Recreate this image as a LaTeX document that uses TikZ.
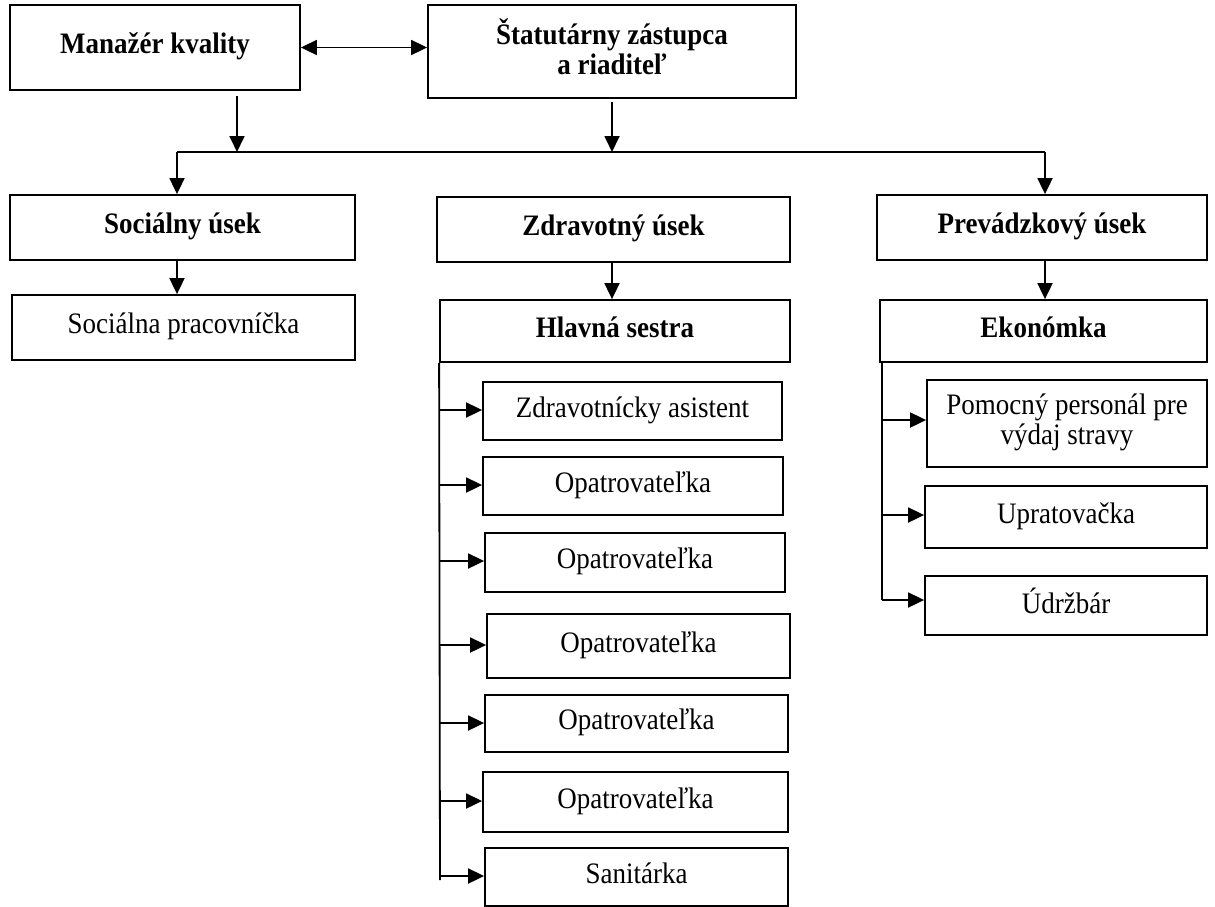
\documentclass[tikz,border=0pt]{standalone}
\usepackage{fontspec}
\usepackage{graphicx}
\setmainfont{Liberation Serif}
\usetikzlibrary{arrows.meta,calc}
\newcommand\tx[1]{\scalebox{1}[1.1]{\begin{tabular}{@{}c@{}}#1\end{tabular}}}
\begin{document}
\begin{tikzpicture}[x=1pt,y=-1pt,
  box/.style={draw,line width=1.8pt,rectangle,inner sep=0pt,align=center,font=\fontsize{27}{27.5}\selectfont},
  bbox/.style={box,font=\fontsize{27}{27.5}\selectfont\bfseries},
  arr/.style={line width=1.8pt,-{Triangle[length=16pt,width=15pt]}},
  arrs/.style={line width=1.8pt,{Triangle[length=16pt,width=15pt]}-{Triangle[length=16pt,width=15pt]}},
  ln/.style={line width=1.8pt}]
\useasboundingbox (0,0) rectangle (1215,906);
\clip (0,0) rectangle (1215,906);
\newcommand\bx[7]{\node[#1,minimum width={#5-#3},minimum height={#6-#4}] (#2) at ({(#3+#5)/2},{(#4+#6)/2}) {\tx{#7}};}
% top level
\bx{bbox}{ma}{10}{5}{300}{90}{Manažér kvality}
\bx{bbox}{st}{428}{5}{796}{98}{Štatutárny zástupca\\a riaditeľ}
% sections
\bx{bbox}{so}{10}{195}{355}{260}{Sociálny úsek}
\bx{bbox}{zd}{437}{197}{790}{262}{Zdravotný úsek}
\bx{bbox}{pr}{877}{195}{1207}{260}{Prevádzkový úsek}
% second level
\bx{box}{sp}{12}{295}{355}{360}{Sociálna pracovníčka}
\bx{bbox}{hs}{440}{300}{790}{362}{Hlavná sestra}
\bx{bbox}{ek}{880}{300}{1207}{362}{Ekonómka}
% health staff
\bx{box}{z1}{483}{382}{782}{440}{Zdravotnícky asistent}
\bx{box}{z2}{483}{457}{783}{515}{Opatrovateľka}
\bx{box}{z3}{485}{533}{785}{592}{Opatrovateľka}
\bx{box}{z4}{487}{614}{790}{678}{Opatrovateľka}
\bx{box}{z5}{485}{695}{788}{752}{Opatrovateľka}
\bx{box}{z6}{483}{772}{788}{832}{Opatrovateľka}
\bx{box}{z7}{485}{848}{788}{906}{Sanitárka}
% operations staff
\bx{box}{e1}{927}{380}{1207}{467}{Pomocný personál pre\\výdaj stravy}
\bx{box}{e2}{925}{486}{1207}{548}{Upratovačka}
\bx{box}{e3}{925}{576}{1207}{635}{Údržbár}
% connectors top
\draw[arrs] (ma.east) -- (ma.east -| st.west);
\coordinate (busL) at (177,152);
\coordinate (busR) at (1045,152);
\coordinate (m1) at (237,96);
\coordinate (s1) at (612,102);
\draw[ln] (busL) -- (busR);
\draw[arr] (m1) -- (m1 |- busL);
\draw[arr] (s1) -- (s1 |- busL);
\draw[arr] (busL) -- (busL |- so.north);
\draw[arr] (busR) -- (busR |- pr.north);
\draw[arr] (so.south -| busL) -- (sp.north -| busL);
\draw[arr] (zd.south -| s1) -- (hs.north -| s1);
\draw[arr] (pr.south -| busR) -- (ek.north -| busR);
% health trunk
\coordinate (hT) at (hs.south west);
\coordinate (hB) at (440,880);
\draw[ln] (hT) -- (hB);
\foreach \n/\y in {z1/410,z2/485,z3/561,z4/645,z5/723,z6/801,z7/876}{
  \draw[arr] (440,\y) -- (\n.west |- 0,\y);
}
% operations trunk
\coordinate (eT) at (882,362);
\coordinate (eB) at (882,600);
\draw[ln] (eT) -- (eB);
\foreach \n/\y in {e1/420,e2/515,e3/600}{
  \draw[arr] (882,\y) -- (\n.west |- 0,\y);
}
\end{tikzpicture}
\end{document}
